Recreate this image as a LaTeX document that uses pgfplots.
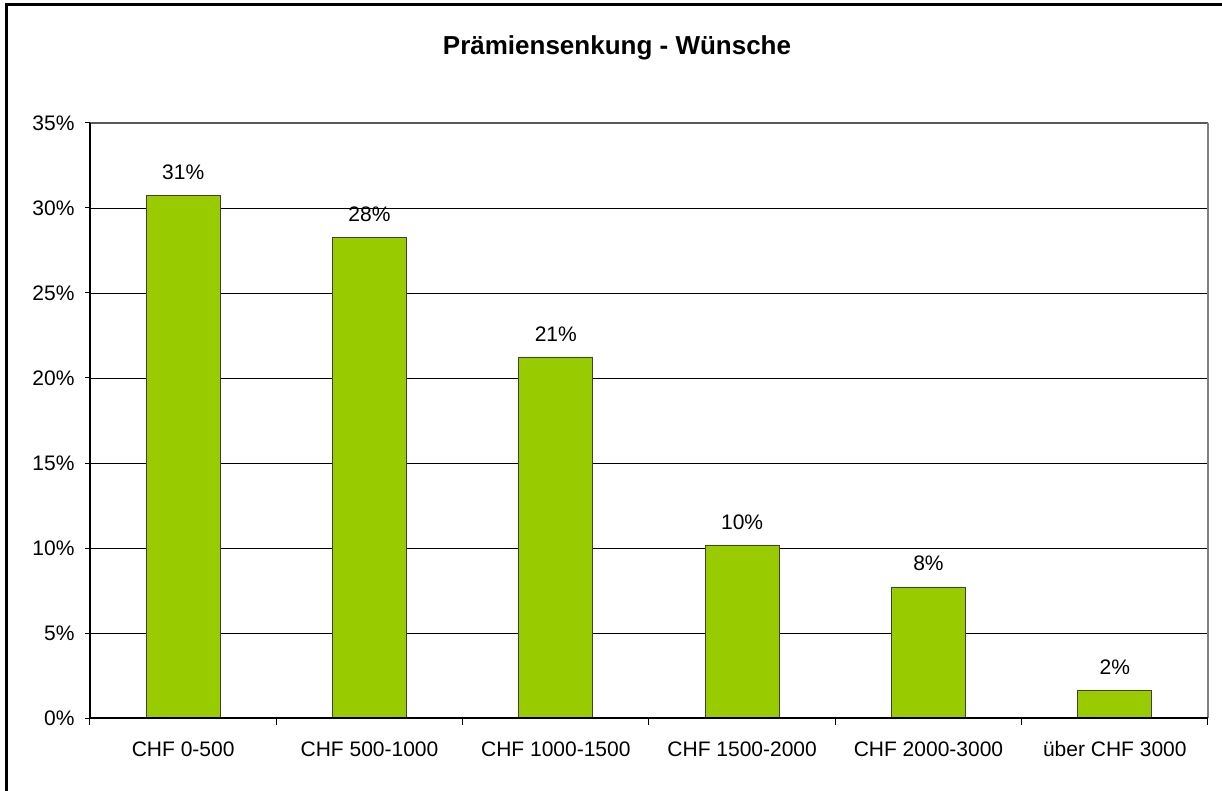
\documentclass[border=0pt]{standalone}
\usepackage{pgfplots}
\pgfplotsset{compat=1.18}
\usepackage{fontspec}
\setmainfont{Liberation Sans}
\definecolor{bargreen}{RGB}{153,204,0}
\begin{document}
\begin{tikzpicture}[x=1pt,y=1pt]
\useasboundingbox (-90,-72) rectangle (1132,718);
\draw[line width=3pt] (-83,-80) -- (-83,713) -- (1140,713);
\node[font=\fontsize{26}{30}\selectfont\bfseries] at (527,670) {Prämiensenkung - Wünsche};
\begin{axis}[
  at={(0,0)}, anchor=south west,
  scale only axis, width=1118pt, height=595pt,
  xmin=-0.5, xmax=5.5, ymin=0, ymax=35,
  ybar, bar width=74pt,
  axis line style={draw=none},
  ytick={0,5,...,35},
  yticklabel={\pgfmathprintnumber{\tick}\%},
  /pgf/number format/assume math mode=true,
  ymajorgrids, grid style={black, line width=0.8pt},
  xtick={0,1,2,3,4,5},
  xticklabels={CHF 0-500, CHF 500-1000, CHF 1000-1500, CHF 1500-2000, CHF 2000-3000, über CHF 3000},
  minor xtick={-0.5,0.5,1.5,2.5,3.5,4.5,5.5},
  major x tick style={draw=none},
  xtick pos=bottom, ytick pos=left,
  tick align=outside,
  tick style={black, line width=1pt},
  major tick length=5pt, minor tick length=7pt,
  ticklabel style={font=\fontsize{21}{25}\selectfont},
  yticklabel style={xshift=-7pt},
  xticklabel style={yshift=-15pt},
  nodes near coords={\pgfmathprintnumber[fixed,precision=0]{\pgfplotspointmeta}\%},
  nodes near coords style={font=\fontsize{21}{25}\selectfont, anchor=south, yshift=12pt},
  clip=false,
]
\addplot[fill=bargreen, draw=black!75, line width=0.8pt] coordinates {
  (0,30.76) (1,28.29) (2,21.24) (3,10.18) (4,7.71) (5,1.65)
};
\draw[gray!70!black, line width=1.5pt] (rel axis cs:0,1) -- (rel axis cs:1,1);
\draw[gray, line width=1.5pt] (rel axis cs:1,0) -- (rel axis cs:1,1);
\draw[black, line width=2pt] (rel axis cs:0,0) -- (rel axis cs:0,1);
\draw[black, line width=2pt] (rel axis cs:0,0) -- (rel axis cs:1,0);
\end{axis}
\end{tikzpicture}
\end{document}
